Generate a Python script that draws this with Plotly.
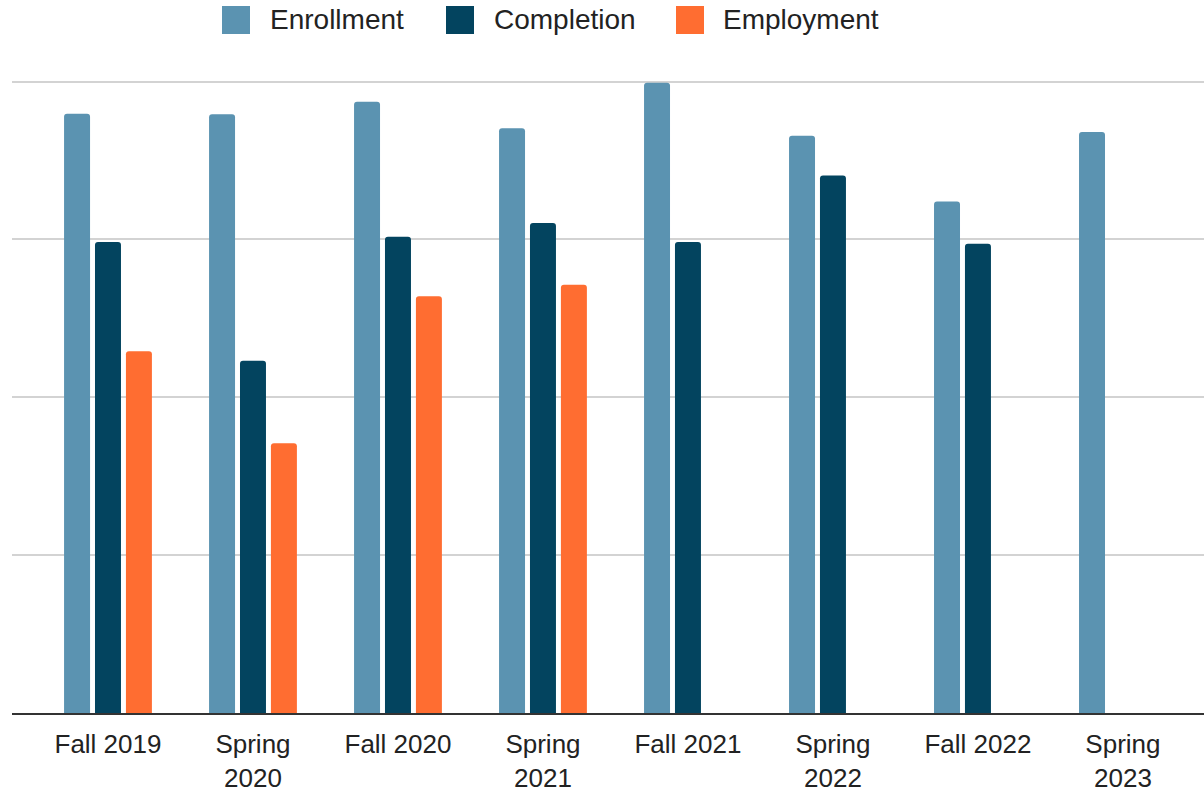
import plotly.graph_objects as go

categories = ["Fall 2019", "Spring<br>2020", "Fall 2020", "Spring<br>2021",
              "Fall 2021", "Spring<br>2022", "Fall 2022", "Spring<br>2023"]
series_names = ["Enrollment", "Completion", "Employment"]
enrollment = [94.9, 94.8, 96.8, 92.6, 99.8, 91.4, 81.0, 92.0]
completion = [74.6, 55.8, 75.4, 77.6, 74.6, 85.1, 74.3, None]
employment = [57.3, 42.7, 66.0, 67.8, None, None, None, None]
colors = ["#5B93B1", "#03445F", "#FF6D31"]

W, H = 1204, 792
YMAX = 100.4
ML, MR, MB = 12, 0, 79
PH = round(631 * YMAX / 100)
MT = H - MB - PH
PW = W - ML - MR

def px_x(px):
    return (px - ML) / PW

def px_y(py):
    return (H - MB - py) / PH

fig = go.Figure()
for name, vals, col in zip(series_names, [enrollment, completion, employment], colors):
    fig.add_trace(go.Bar(x=list(range(len(categories))), y=vals, name=name,
                         marker=dict(color=col, line=dict(width=0)),
                         showlegend=False))

FONT = "Liberation Sans, Arial, sans-serif"

# custom legend (large square swatches)
legend_items = [(222, 270), (446, 494), (676, 723)]
shapes = []
annotations = []
for (sx, tx), name, col in zip(legend_items, series_names, colors):
    shapes.append(dict(type="rect", xref="paper", yref="paper",
                       x0=px_x(sx), x1=px_x(sx + 28), y0=px_y(34), y1=px_y(6),
                       fillcolor=col, line=dict(width=0), layer="above"))
    annotations.append(dict(text=name, xref="paper", yref="paper",
                            x=px_x(tx - 2), y=px_y(20), xanchor="left", yanchor="middle",
                            showarrow=False, font=dict(family=FONT, size=28, color="#222222")))

fig.update_layout(
    width=W, height=H,
    margin=dict(l=ML, r=MR, t=MT, b=MB, autoexpand=False),
    paper_bgcolor="white", plot_bgcolor="white",
    barmode="group", bargap=0.36, bargroupgap=0.16, barcornerradius=3,
    shapes=shapes, annotations=annotations,
    font=dict(family=FONT, size=26, color="#222222"),
    xaxis=dict(tickmode="array", tickvals=list(range(len(categories))), ticktext=categories,
               range=[-0.662, 7.559], showgrid=False, zeroline=False,
               showline=True, linecolor="#333333", linewidth=2,
               ticks="", ticklabelstandoff=7, automargin=False,
               tickfont=dict(family=FONT, size=26, color="#222222")),
    yaxis=dict(range=[0, YMAX], tickmode="array", tickvals=[25, 50, 75, 100],
               showticklabels=False, showgrid=True, automargin=False,
               gridcolor="#d3d3d3", gridwidth=2, zeroline=False, showline=False),
)

fig.write_html("out.html", config={"displayModeBar": False},
               post_script="document.body.style.margin='0';")
